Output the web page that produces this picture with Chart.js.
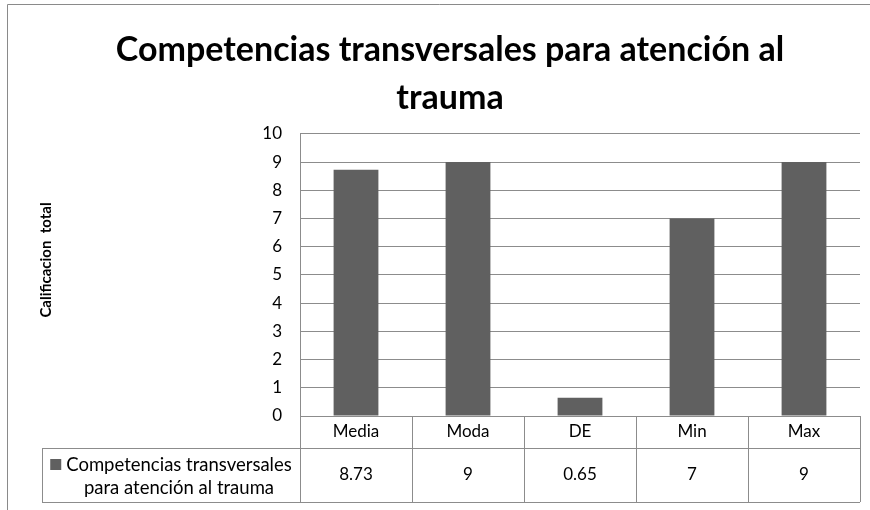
<!DOCTYPE html>
<html>
<head>
<meta charset="utf-8">
<script src="https://cdn.jsdelivr.net/npm/chart.js@4"></script>
<style>
  body { margin: 0; background: #fff; }
  canvas { display: block; }
</style>
</head>
<body>
<canvas id="myChart" width="870" height="510"></canvas>
<script>
// Datos del grafico
const categorias = ["Media", "Moda", "DE", "Min", "Max"];
const valores = [8.73, 9, 0.65, 7, 9];
const etiquetasValores = ["8.73", "9", "0.65", "7", "9"];
const ticksY = [0, 1, 2, 3, 4, 5, 6, 7, 8, 9, 10];
const nombreSerie = ["Competencias transversales", "para atención al trauma"];
const tituloY = "Calificacion  total";

const FUENTE = "Lato";
const GRIS = "#8c8c8c";
const BARRA = "#606060";

// Tabla de datos debajo del grafico + borde exterior
const tablaPlugin = {
    id: "tablaDatos",
    afterDraw(chart) {
        const ctx = chart.ctx;
        const x = chart.scales.x;
        const area = chart.chartArea;
        const filaTop = area.bottom;
        const filaMid = filaTop + 32;
        const filaBot = filaTop + 86;
        const leyendaLeft = 42;
        const ancho = (area.right - area.left) / categorias.length;

        ctx.save();
        // borde exterior
        ctx.strokeStyle = "#8a8a8a";
        ctx.lineWidth = 1;
        ctx.beginPath();
        ctx.moveTo(7.5, chart.height + 5);
        ctx.lineTo(7.5, 4.5);
        ctx.lineTo(chart.width + 5, 4.5);
        ctx.stroke();

        // lineas de la tabla
        ctx.strokeStyle = GRIS;
        ctx.beginPath();
        ctx.moveTo(area.left, filaTop + 0.5);
        ctx.lineTo(area.right, filaTop + 0.5);
        ctx.moveTo(leyendaLeft, filaMid + 0.5);
        ctx.lineTo(area.right, filaMid + 0.5);
        ctx.moveTo(leyendaLeft, filaBot + 0.5);
        ctx.lineTo(area.right, filaBot + 0.5);
        ctx.moveTo(leyendaLeft + 0.5, filaMid);
        ctx.lineTo(leyendaLeft + 0.5, filaBot);
        for (let i = 0; i <= categorias.length; i++) {
            const px = Math.round(area.left + i * ancho) + 0.5;
            ctx.moveTo(px, i === 0 ? area.top : filaTop);
            ctx.lineTo(px, filaBot);
        }
        ctx.stroke();

        // textos de categorias y valores
        ctx.fillStyle = "#000";
        ctx.font = "17px " + FUENTE;
        ctx.textAlign = "center";
        ctx.textBaseline = "middle";
        categorias.forEach((c, i) => {
            const cx = x.getPixelForValue(i);
            ctx.fillText(c, cx, filaTop + 16);
            ctx.fillText(etiquetasValores[i], cx, filaMid + 27);
        });

        // leyenda de la serie
        ctx.font = "18.5px " + FUENTE;
        const lx = (leyendaLeft + area.left) / 2 + 8;
        ctx.fillText(nombreSerie[0], lx, filaMid + 17);
        ctx.fillText(nombreSerie[1], lx, filaMid + 40);
        const w0 = ctx.measureText(nombreSerie[0]).width;
        ctx.fillStyle = BARRA;
        ctx.fillRect(lx - w0 / 2 - 16, filaMid + 11, 11, 11);

        // titulo del eje Y
        ctx.fillStyle = "#000";
        ctx.font = "bold 15px " + FUENTE;
        ctx.translate(46, 260);
        ctx.rotate(-Math.PI / 2);
        ctx.fillText(tituloY, 0, 0);
        ctx.restore();
    }
};

let ctx = document.getElementById("myChart").getContext("2d");
let chart = new Chart(ctx, {
    type: "bar",
    data: {
        labels: categorias,
        datasets: [{
            label: nombreSerie.join(" "),
            data: valores,
            backgroundColor: BARRA,
            borderWidth: 0,
            barPercentage: 0.4,
            categoryPercentage: 1
        }]
    },
    options: {
        responsive: false,
        animation: false,
        layout: { padding: { left: 40, right: 10, top: 0, bottom: 0 } },
        plugins: {
            legend: false,
            tooltip: { enabled: false },
            title: {
                display: true,
                text: ["Competencias transversales para atención al", "trauma"],
                color: "#000",
                font: { family: FUENTE, size: 34, weight: "bold", lineHeight: 1.41 },
                padding: { top: 26, bottom: 12 }
            }
        },
        scales: {
            x: {
                grid: { display: false },
                border: { display: false },
                ticks: { display: false },
                afterFit: s => { s.height = 94; }
            },
            y: {
                min: 0,
                max: 10,
                afterFit: s => { s.width = 260; },
                afterBuildTicks: s => { s.ticks = ticksY.map(v => ({ value: v })); },
                grid: { color: GRIS, drawTicks: false, tickLength: 0 },
                border: { display: false },
                ticks: {
                    padding: 18,
                    color: "#000",
                    font: { family: FUENTE, size: 17 }
                }
            }
        }
    },
    plugins: [tablaPlugin]
});
</script>
</body>
</html>
